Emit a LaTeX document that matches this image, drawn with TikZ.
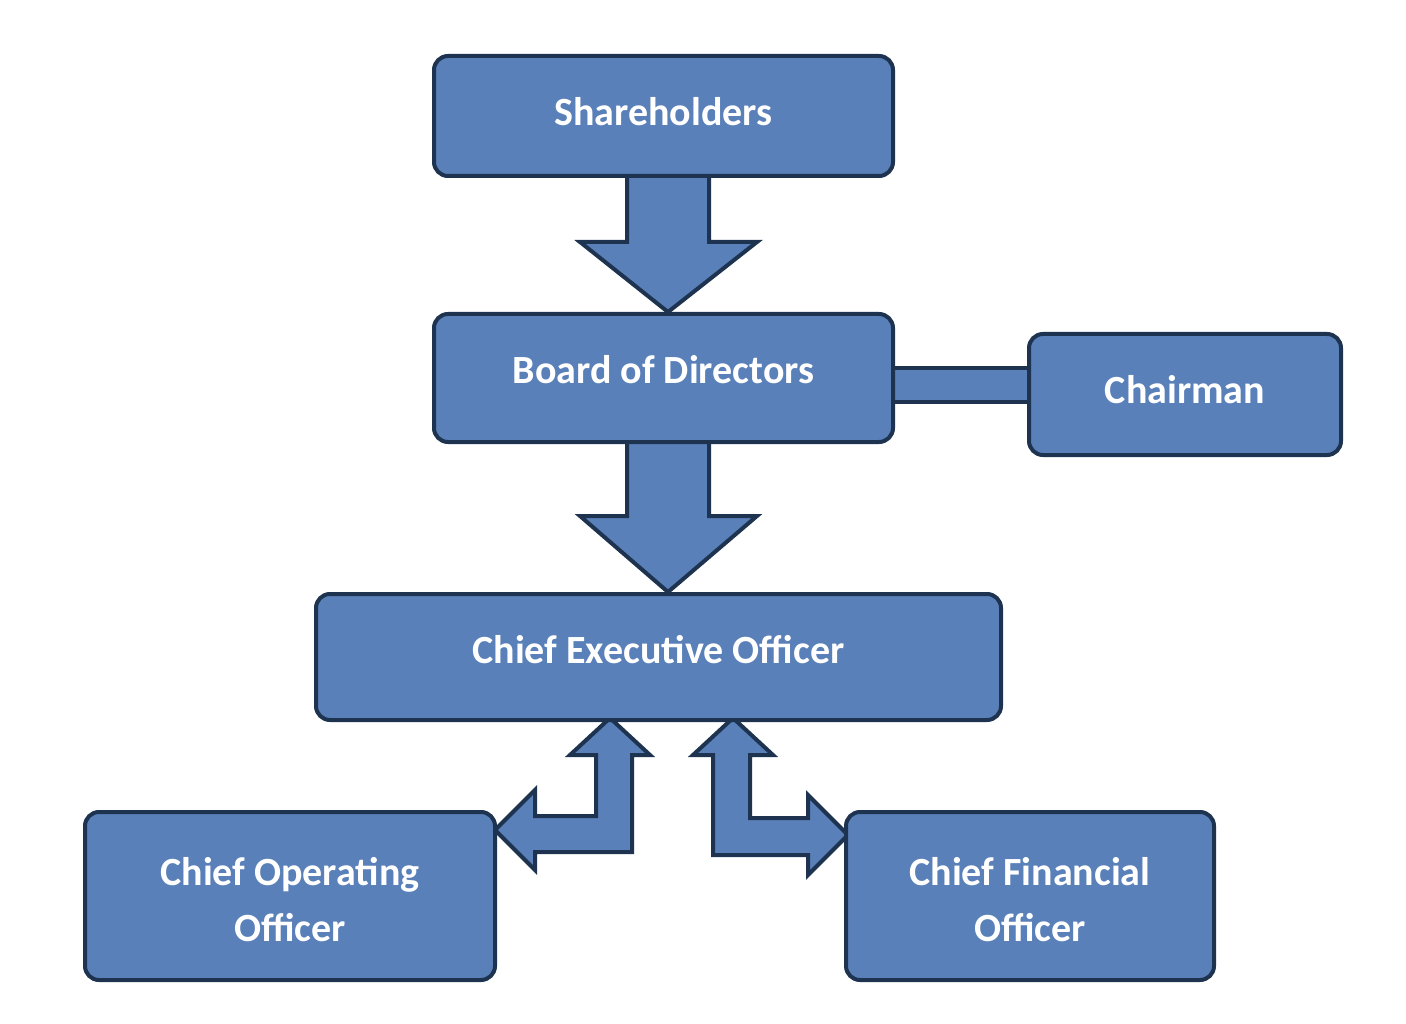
\documentclass[tikz,border=0pt]{standalone}
\usepackage{fontspec}
\setmainfont{Carlito}
\definecolor{bfill}{HTML}{5A80B9}
\definecolor{bline}{HTML}{1E3350}
\begin{document}
\begin{tikzpicture}[x=1pt,y=-1pt,
  box/.style={draw=bline,fill=bfill,line width=4pt,rounded corners=14pt},
  lbl/.style={text=white,font=\bfseries\fontsize{40}{56}\selectfont,align=center},
  arr/.style={draw=bline,fill=bfill,line width=4pt,line join=miter}]
\useasboundingbox (0,0) rectangle (1406,1024);
\fill[white] (0,0) rectangle (1406,1024);
% arrows
\draw[arr] (627,170) -- (709,170) -- (709,242) -- (757,242) -- (668,312) -- (580,242) -- (627,242) -- cycle;
\draw[arr] (627,436) -- (709,436) -- (709,516) -- (757,516) -- (668,592) -- (580,516) -- (627,516) -- cycle;
\draw[arr] (887,368) rectangle (1035,402);
\draw[arr] (610,718) -- (650,755) -- (632,755) -- (632,852) -- (535,852) -- (535,870) -- (495,830) -- (535,790) -- (535,816) -- (596,816) -- (596,755) -- (570,755) -- cycle;
\draw[arr] (733,718) -- (773,755) -- (750,755) -- (750,818) -- (808,818) -- (808,795) -- (848,835) -- (808,875) -- (808,855) -- (713,855) -- (713,755) -- (693,755) -- cycle;
% boxes
\draw[box] (434,56) rectangle (893,176);
\node[lbl] (sh) at (663.5,112) {Shareholders};
\draw[box] (434,314) rectangle (893,442);
\node[lbl] (bd) at (663.5,370) {Board of Directors};
\draw[box] (1029,334) rectangle (1341,455);
\node[lbl] (ch) at (1185,390) {Chairman};
\draw[box] (316,594) rectangle (1001,720);
\node[lbl] (ceo) at (658.5,650) {Chief Executive Officer};
\draw[box] (85,812) rectangle (495,980);
\node[lbl] (coo) at (290,900) {Chief Operating\\Officer};
\draw[box] (846,812) rectangle (1214,980);
\node[lbl] (cfo) at (1030,900) {Chief Financial\\Officer};
\end{tikzpicture}
\end{document}
